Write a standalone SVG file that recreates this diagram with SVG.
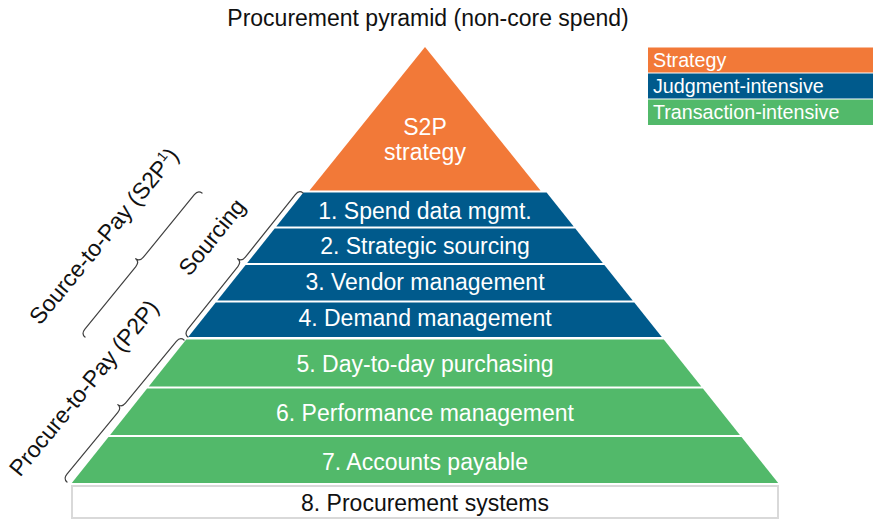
<svg xmlns="http://www.w3.org/2000/svg" width="879" height="521" viewBox="0 0 879 521">
<style>
.t{font-family:"Liberation Sans",Arial,sans-serif;font-size:23px;text-anchor:middle}
.w{fill:#ffffff}
.k{fill:#111111}
.lg{font-family:"Liberation Sans",Arial,sans-serif;font-size:19.7px;fill:#ffffff}
.or{fill:#F27938}
.bl{fill:#005A8C}
.gr{fill:#52B96A}
.br{fill:none;stroke:#404040;stroke-width:1.2;stroke-linecap:round;stroke-linejoin:round}
</style>
<rect width="879" height="521" fill="#ffffff"/>
<text class="t k" x="428" y="26">Procurement pyramid (non-core spend)</text>
<g id="legend">
<rect class="or" x="648" y="47.5" width="225" height="25"/>
<text class="lg" x="653" y="67">Strategy</text>
<rect class="bl" x="648" y="73.5" width="225" height="25"/>
<text class="lg" x="653" y="93">Judgment-intensive</text>
<rect class="gr" x="648" y="99.5" width="225" height="25.5"/>
<text class="lg" x="653" y="119">Transaction-intensive</text>
</g>
<g id="apex">
<polygon class="or" points="425,47 540.5,190.5 309.5,190.5"/>
<text class="t w" x="425" y="134.5">S2P</text>
<text class="t w" x="425" y="160">strategy</text>
</g>
<g id="layer1">
<polygon class="bl" points="303.4,192.5 546.6,192.5 573.7,226.5 276.3,226.5"/>
<text class="t w" x="425" y="219">1. Spend data mgmt.</text>
</g>
<g id="layer2">
<polygon class="bl" points="274.7,228.5 575.3,228.5 602.8,263 247.2,263"/>
<text class="t w" x="425" y="254">2. Strategic sourcing</text>
</g>
<g id="layer3">
<polygon class="bl" points="245.6,265 604.4,265 632.7,300.5 217.3,300.5"/>
<text class="t w" x="425" y="290">3. Vendor management</text>
</g>
<g id="layer4">
<polygon class="bl" points="215.7,302.5 634.3,302.5 661.8,337 188.2,337"/>
<text class="t w" x="425" y="326">4. Demand management</text>
</g>
<g id="layer5">
<polygon class="gr" points="186.2,339.5 663.8,339.5 701.3,386.5 148.7,386.5"/>
<text class="t w" x="425" y="372">5. Day-to-day purchasing</text>
</g>
<g id="layer6">
<polygon class="gr" points="147.1,388.5 702.9,388.5 739.9,435 110.1,435"/>
<text class="t w" x="425" y="421">6. Performance management</text>
</g>
<g id="layer7">
<polygon class="gr" points="108.5,437 741.5,437 778.2,483 71.8,483"/>
<text class="t w" x="425" y="470">7. Accounts payable</text>
</g>
<g id="layer8">
<rect x="72" y="486" width="706" height="32" fill="#ffffff" stroke="#d9d9d9" stroke-width="2"/>
<text class="t k" x="425" y="510.5">8. Procurement systems</text>
</g>
<g id="connectors">
<path class="br" transform="translate(85,337) rotate(-50.9)" d="M0,0 Q0,-5 6,-5 L86.75,-5 Q92.75,-5 92.75,-10 Q92.75,-5 98.75,-5 L179.5,-5 Q185.5,-5 185.5,0"/>
<path class="br" transform="translate(188,337) rotate(-51.4)" d="M0,0 Q0,-5 6,-5 L86.15,-5 Q92.15,-5 92.15,-10 Q92.15,-5 98.15,-5 L178.3,-5 Q184.3,-5 184.3,0"/>
<path class="br" transform="translate(67,482) rotate(-50.5)" d="M0,0 Q0,-5 6,-5 L86,-5 Q92,-5 92,-10 Q92,-5 98,-5 L178,-5 Q184,-5 184,0"/>
</g>
<g id="side-labels">
<text class="t k" transform="translate(110,241) rotate(-50.5)" x="0" y="0">Source-to-Pay (S2P<tspan font-size="14" dy="-9">1</tspan><tspan dy="9">)</tspan></text>
<text class="t k" transform="translate(218,242) rotate(-51)" x="0" y="0">Sourcing</text>
<text class="t k" transform="translate(90,393) rotate(-50.5)" x="0" y="0">Procure-to-Pay (P2P)</text>
</g>
</svg>
